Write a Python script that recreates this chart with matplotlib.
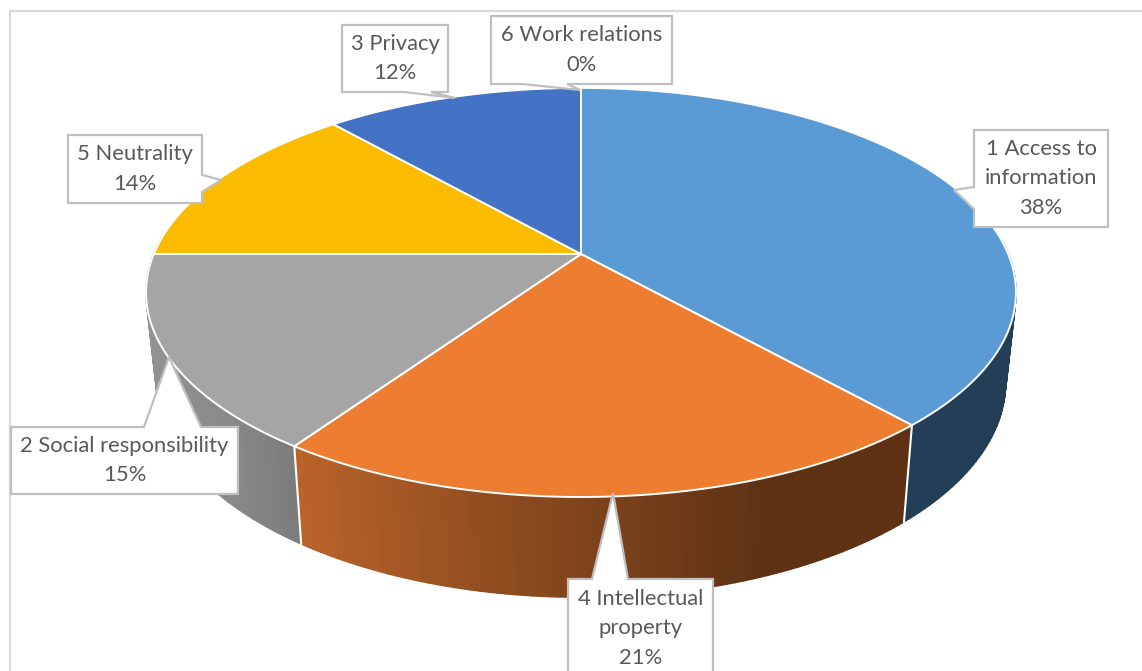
#!/usr/bin/env python3
import numpy as np
import matplotlib
matplotlib.use("Agg")
import matplotlib.pyplot as plt
from matplotlib.collections import PolyCollection
from matplotlib.colors import to_rgb
from matplotlib.patches import Polygon

# Data, in the order the slices run clockwise from 12 o'clock
categories = ["1 Access to\ninformation", "4 Intellectual\nproperty",
              "2 Social responsibility", "5 Neutrality", "3 Privacy",
              "6 Work relations"]
values = [38.4, 21.2, 15.4, 13.5, 11.5, 0.0]

top_colors = ["#5B9BD5", "#ED7D31", "#A5A5A5", "#FBBC00", "#4472C4", "#70AD47"]
# rim shading: (x in pixels, colour) stops
rim_stops = [
    ([900, 1020], ["#233F57", "#233F57"]),
    ([300, 500, 770, 905], ["#B9632A", "#8E4C1F", "#5E3114", "#5E3114"]),
    ([150, 220, 300], ["#929292", "#8A8A8A", "#7A7A7A"]),
    ([150, 600], ["#997300", "#997300"]),
    ([330, 580], ["#29457A", "#29457A"]),
    ([0, 1142], ["#43682B", "#43682B"]),
]

# callouts: box (x0, y0, x1, y1), side, pointer base (a, b), pointer tip
callouts = [
    ((974, 130, 1108, 227), "left", (187, 209), (954, 190)),
    ((568, 579, 713, 680), "top", (592, 628), (613, 493)),
    ((11, 427, 238, 494), "top", (144, 201), (169, 357)),
    ((68, 135, 202, 203), "right", (175, 192), (221, 180)),
    ((342, 25, 448, 92), "bottom", (404, 431), (455, 98)),
    ((491, 16, 672, 84), "bottom", (522, 567), (580, 90)),
]

W, H = 1142, 671
CX, CY = 581, 254      # apex of the top face
A, B, K = 427.2, 197.3, 0.188  # perspective of the disc
RIM_Y, RIM_SX, RIM_SY = 342, 0.976, 1.05  # apex height and scales of the lower face
TEXT = "#595959"
BORDER = "#BFBFBF"


def project(theta, cy=CY, sx=1.0, sy=1.0):
    u, v = np.sin(theta), np.cos(theta)
    d = 1 + K * v
    return CX + sx * A * u / d, cy - sy * B * v / d


def rim_colors(xs, stops):
    px, cols = stops
    rgb = np.array([to_rgb(c) for c in cols])
    return np.column_stack([np.interp(xs, px, rgb[:, i]) for i in range(3)])


def draw_rim(ax, t0, t1, stops):
    n = max(2, int(np.degrees(t1 - t0)))
    th = np.linspace(t0, t1, n + 1)
    th = th[np.cos(th) < 0.1]  # the back of the rim is hidden anyway
    if len(th) < 2:
        return
    x0, y0 = project(th)
    x1, y1 = project(th, RIM_Y, RIM_SX, RIM_SY)
    polys = [[(x0[i], y0[i]), (x0[i + 1], y0[i + 1]), (x1[i + 1], y1[i + 1]), (x1[i], y1[i])]
             for i in range(len(th) - 1)]
    cols = rim_colors((x0[:-1] + x0[1:]) / 2, stops)
    ax.add_collection(PolyCollection(polys, facecolors=cols, edgecolors=cols, linewidths=1.2, zorder=2))


def callout_shape(box, side, base, tip):
    x0, y0, x1, y1 = box
    a, b = base
    if side == "top":
        return [(x0, y0), (a, y0), tip, (b, y0), (x1, y0), (x1, y1), (x0, y1)]
    if side == "bottom":
        return [(x0, y0), (x1, y0), (x1, y1), (b, y1), tip, (a, y1), (x0, y1)]
    if side == "left":
        return [(x0, y0), (x1, y0), (x1, y1), (x0, y1), (x0, b), tip, (x0, a)]
    return [(x0, y0), (x1, y0), (x1, a), tip, (x1, b), (x1, y1), (x0, y1)]


plt.rcParams["font.family"] = ["Lato", "DejaVu Sans"]
fig = plt.figure(figsize=(W / 100, H / 100), dpi=100)
ax = fig.add_axes([0, 0, 1, 1])
ax.set_xlim(0, W)
ax.set_ylim(H, 0)
ax.axis("off")

# chart frame, only top and left are inside the crop
ax.plot([W, 10, 10], [11, 11, H], color="#D9D9D9", lw=1.6, zorder=1)

edges = np.radians(np.concatenate([[0], np.cumsum(values)]) * 3.6)

for i in reversed(range(len(values))):
    if values[i] > 0:
        draw_rim(ax, edges[i], edges[i + 1], rim_stops[i])

# white seams where slices meet on the visible side
for t in edges[1:-1]:
    if np.cos(t) < -0.05:
        x0, y0 = project(t)
        x1, y1 = project(t, RIM_Y, RIM_SX, RIM_SY)
        ax.plot([x0, x1], [y0, y1], color="white", lw=1.5, zorder=3)

for i in range(len(values)):
    if values[i] <= 0:
        continue
    th = np.linspace(edges[i], edges[i + 1], 200)
    x, y = project(th)
    pts = np.column_stack([np.r_[CX, x], np.r_[CY, y]])
    ax.add_patch(Polygon(pts, closed=True, facecolor=top_colors[i], edgecolor="white", lw=1.4, zorder=4))

for i, (box, side, base, tip) in enumerate(callouts):
    shape = callout_shape(box, side, base, tip)
    ax.add_patch(Polygon(shape, closed=True, facecolor="white", edgecolor=BORDER, lw=1.6,
                         joinstyle="miter", zorder=5))
    label = f"{categories[i]}\n{values[i]:.0f}%"
    n_lines = label.count("\n") + 1
    # the intellectual property box runs off the canvas, so centre on its text
    yc = box[1] + 6 + 29 * n_lines / 2 if box[3] > H else (box[1] + box[3]) / 2
    ax.text((box[0] + box[2]) / 2, yc, label, ha="center", va="center",
            color=TEXT, fontsize=15.8, linespacing=1.6, zorder=6)

fig.savefig("out.png", dpi=100)
plt.close(fig)
